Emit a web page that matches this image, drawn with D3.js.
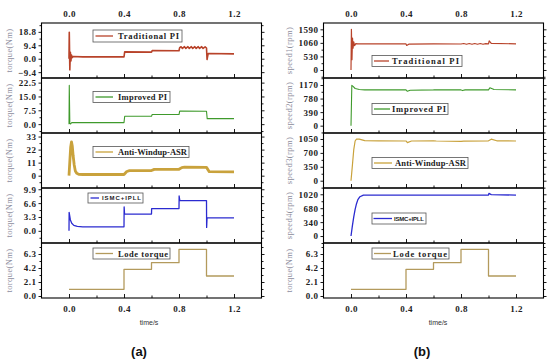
<!DOCTYPE html>
<html>
<head>
<meta charset="utf-8">
<script src="https://cdn.jsdelivr.net/npm/d3@7/dist/d3.min.js"></script>
<style>
  body { margin: 0; background: #fff; }
  .tick text { font-family: "Liberation Serif", serif; font-weight: bold; font-size: 9px; fill: #222; letter-spacing: 0.5px; }
  .tick line { stroke: #000; stroke-width: 0.9; }
</style>
</head>
<body>
<script>
// ---- data ----
const timeTicks = [0, 0.4, 0.8, 1.2];
const timeMinor = [0.2, 0.6, 1.0];

// load torque (Nm) steps, shared by both bottom panels
const lodeTorque = [[0,1],[0.4,1],[0.4,4],[0.6,4],[0.6,5],[0.8,5],[0.8,7],[1.0,7],[1.0,3],[1.2,3]];

// (a) torque responses
const tradTorque = [[0,0],[0.002,18.5],[0.006,-7.8],[0.010,4.5],[0.014,-1.5],[0.018,2.6],[0.024,0.8],[0.03,1.6],
  [0.1,1.3],[0.4,1.3],[0.405,4.8],[0.6,4.6],[0.605,5.7],[0.8,5.6],[0.805,7.8],
  [0.815,8.4],[0.825,7.2],[0.84,8.4],[0.85,7.2],[0.865,8.4],[0.875,7.2],[0.89,8.4],[0.9,7.2],
  [0.915,8.4],[0.925,7.2],[0.94,8.4],[0.95,7.2],[0.965,8.4],[0.975,7.2],[0.99,8.3],[1.0,7.5],
  [1.004,-0.6],[1.012,3.6],[1.2,3.4]];
const impTorque = [[0,0],[0.002,21],[0.006,0.4],[0.012,0.1],[0.02,0.9],[0.05,0.8],[0.4,0.8],[0.405,4.3],
  [0.6,4.3],[0.605,5.2],[0.8,5.2],[0.805,7.1],[1.0,7.0],[1.005,3.0],[1.2,3.0]];
const awTorque = [[0,0],[0.006,12],[0.012,24],[0.018,28.5],[0.024,25],[0.03,17],[0.038,9],[0.046,4],
  [0.056,2],[0.07,1.2],[0.1,1],[0.4,1.0],[0.42,3.5],[0.44,4.2],[0.6,4.3],[0.62,5.3],[0.8,5.4],
  [0.82,6.8],[0.84,7.2],[1.0,7.0],[1.02,3.4],[1.2,3.2]];
const ismcTorque = [[0,0],[0.001,4.4],[0.01,2.6],[0.02,1.8],[0.035,1.3],[0.06,1.05],[0.1,0.95],[0.4,0.95],
  [0.401,5.7],[0.404,4.0],[0.6,4.0],[0.601,5.3],[0.8,5.3],[0.801,8.3],[0.806,7.2],[1.0,7.2],
  [1.001,0.8],[1.004,3.1],[1.2,3.1]];

// (b) speed responses (rpm)
const tradSpeed = [[0,0],[0.003,1590],[0.007,400],[0.011,1250],[0.015,850],[0.02,1100],[0.026,950],[0.035,1030],
  [0.05,1020],[0.4,1020],[0.405,960],[0.42,1010],[0.6,1020],[0.8,1015],[0.82,1035],[0.84,1005],[0.86,1035],
  [0.88,1005],[0.9,1035],[0.92,1005],[0.94,1035],[0.96,1005],[0.98,1030],[1.0,1020],[1.005,1140],
  [1.02,1040],[1.2,1020]];
const impSpeed = [[0,0],[0.006,1160],[0.015,1130],[0.03,1070],[0.06,1040],[0.1,1030],[0.4,1030],[0.41,990],
  [0.43,1020],[0.6,1030],[0.62,1035],[0.8,1030],[0.81,1010],[0.83,1030],[1.0,1030],[1.01,1090],
  [1.04,1040],[1.2,1030]];
const awSpeed = [[0,0],[0.01,380],[0.02,780],[0.03,1000],[0.04,1050],[0.06,1045],[0.1,1010],[0.2,1005],
  [0.4,1000],[0.41,960],[0.44,1000],[0.6,1005],[0.62,1000],[0.8,990],[0.82,995],[1.0,1005],
  [1.02,1045],[1.06,1005],[1.2,1000]];
const ismcSpeed = [[0,0],[0.01,250],[0.02,470],[0.03,650],[0.04,790],[0.05,890],[0.065,960],[0.09,1000],
  [0.4,1000],[0.6,1000],[0.8,1000],[1.0,1000],[1.003,1040],[1.02,1010],[1.2,1000]];

// y tick values and domains per row
const torqueTicksA = [[-9.4,0,9.4,18.8],[0,7.5,15,22.5],[0,11,22,33],[0,3.3,6.6,9.9],[0,2.1,4.2,6.3]];
const speedTicksB = [[0,530,1060,1590],[0,390,780,1170],[0,350,700,1050],[0,340,680,1020],[0,2.1,4.2,6.3]];
const domainsA = [[-13.5,25],[-4.8,25],[-10.4,36],[-2.9,10.2],[-0.3,7.95]];
const domainsB = [[-314,1837],[-211,1372],[-184,1201],[-170,1173],[-0.3,7.95]];

const seriesNames = ["Traditional PI","Improved PI","Anti-Windup-ASR","ISMC+IPLL","Lode torque"];
const colors = ["#b8432a","#3f9a2c","#c9a23c","#2b2bd0","#b39a5c"];

// ---- layout ----
const svg = d3.select("body").append("svg")
    .attr("width", 550).attr("height", 364);

const rowTops = [23, 78, 133, 188, 243], rowH = 55;

const columns = [
  { x0: 41.5, x1: 261.5, titleX: 10, data: [tradTorque, impTorque, awTorque, ismcTorque, lodeTorque],
    ticks: torqueTicksA, domains: domainsA, widths: [1.6, 1.1, 2.8, 1.3, 1.3],
    titles: ["torque(Nm)","torque(Nm)","torque(Nm)","torque(Nm)","torque(Nm)"],
    fmt: [".1f",".1f","d",".1f",".1f"],
    legends: [
      {x:93, y:30, w:89, h:12, l0:95.5, l1:113, tx:118, tw:61},
      {x:93, y:91.5, w:77, h:11, l0:95.5, l1:113, tx:118, tw:49},
      {x:93, y:146.5, w:96, h:11, l0:95.5, l1:113, tx:118, tw:69},
      {x:88, y:193, w:55, h:10, l0:90.5, l1:99, tx:102, tw:39, small:true},
      {x:93, y:248, w:77, h:11, l0:95.5, l1:113, tx:118, tw:50}],
    label: "(a)", labelX: 139, timeX: 149 },
  { x0: 323.5, x1: 543.5, titleX: 290, data: [tradSpeed, impSpeed, awSpeed, ismcSpeed, lodeTorque],
    ticks: speedTicksB, domains: domainsB, widths: [1.2, 1.1, 1.2, 1.3, 1.3],
    titles: ["speed1(rpm)","speed2(rpm)","speed3(rpm)","speed4(rpm)","torque(Nm)"],
    fmt: ["d","d","d","d",".1f"],
    legends: [
      {x:372, y:55.5, w:90, h:11, l0:374, l1:389, tx:392, tw:67},
      {x:372, y:103.5, w:76, h:11, l0:374, l1:390, tx:392, tw:54},
      {x:372, y:157.5, w:96, h:11, l0:374, l1:392, tx:395, tw:71},
      {x:372, y:213, w:54, h:11, l0:373.5, l1:392, tx:394, tw:30, small:true},
      {x:372, y:248, w:77, h:11, l0:374, l1:391, tx:393, tw:54}],
    label: "(b)", labelX: 422, timeX: 438 }
];

columns.forEach((col, ci) => {
  const x = d3.scaleLinear().domain([-0.2, 1.4]).range([col.x0, col.x1]);

  rowTops.forEach((top, ri) => {
    const bottom = top + rowH;
    const y = d3.scaleLinear().domain(col.domains[ri]).range([bottom, top]);
    const g = svg.append("g");
    const ticks = col.ticks[ri];
    const step = ticks[1] - ticks[0];
    const minor = [];
    for (let v = ticks[0] - step / 2; v <= col.domains[ri][1]; v += step)
      if (v >= col.domains[ri][0]) minor.push(v);

    // clip
    const clipId = `clip${ci}${ri}`;
    svg.append("clipPath").attr("id", clipId)
      .append("rect").attr("x", col.x0).attr("y", top).attr("width", col.x1 - col.x0).attr("height", rowH);

    // line
    const line = d3.line().x(d => x(d[0])).y(d => y(d[1]));
    g.append("path")
      .datum(col.data[ri])
      .attr("clip-path", `url(#${clipId})`)
      .attr("fill", "none")
      .attr("stroke", colors[ri])
      .attr("stroke-width", col.widths[ri])
      .attr("stroke-linejoin", "round")
      .attr("d", line);

    // left axis
    g.append("g").attr("transform", `translate(${col.x0},0)`)
      .call(d3.axisLeft(y).tickValues(ticks).tickSize(3).tickPadding(2)
        .tickFormat(d3.format(col.fmt[ri])))
      .call(a => a.select(".domain").remove());
    g.append("g").attr("transform", `translate(${col.x0},0)`)
      .call(d3.axisLeft(y).tickValues(minor).tickSize(2).tickFormat(""))
      .call(a => a.select(".domain").remove());
    // right axis
    g.append("g").attr("transform", `translate(${col.x1},0)`)
      .call(d3.axisRight(y).tickValues(ticks).tickSize(3).tickFormat(""))
      .call(a => a.select(".domain").remove());
    g.append("g").attr("transform", `translate(${col.x1},0)`)
      .call(d3.axisRight(y).tickValues(minor).tickSize(2).tickFormat(""))
      .call(a => a.select(".domain").remove());

    // time ticks along the bottom edge, pointing inward
    const xb = g.append("g").attr("transform", `translate(0,${bottom})`);
    xb.call(d3.axisTop(x).tickValues(timeTicks).tickSize(4).tickFormat(""))
      .call(a => a.select(".domain").remove());
    xb.append("g").call(d3.axisTop(x).tickValues(timeMinor).tickSize(2.5).tickFormat(""))
      .call(a => a.select(".domain").remove());

    if (ri === 0) {
      g.append("g").attr("transform", `translate(0,${top})`)
        .call(d3.axisTop(x).tickValues(timeTicks).tickSize(0).tickPadding(6)
          .tickFormat(d3.format(".1f")))
        .call(a => a.select(".domain").remove());
    }
    if (ri === rowTops.length - 1) {
      g.append("g").attr("transform", `translate(0,${bottom})`)
        .call(d3.axisBottom(x).tickValues(timeTicks).tickSize(0).tickPadding(8)
          .tickFormat(d3.format(".1f")))
        .call(a => a.select(".domain").remove());
    }

    // frame
    g.append("rect")
      .attr("x", col.x0).attr("y", top)
      .attr("width", col.x1 - col.x0).attr("height", rowH)
      .attr("fill", "none").attr("stroke", "#000").attr("stroke-width", 1.1);

    // y title
    g.append("text")
      .attr("transform", `translate(${col.titleX},${top + rowH / 2}) rotate(-90)`)
      .attr("text-anchor", "middle").attr("dominant-baseline", "middle")
      .attr("font-family", "Liberation Serif, serif")
      .attr("font-size", 8.5).attr("letter-spacing", 0.4)
      .attr("fill", "#8e8e9e")
      .text(col.titles[ri]);

    // legend
    const lg = col.legends[ri];
    g.append("rect").attr("x", lg.x).attr("y", lg.y).attr("width", lg.w).attr("height", lg.h)
      .attr("fill", "#fff").attr("stroke", "#555").attr("stroke-width", 0.8);
    g.append("line").attr("x1", lg.l0).attr("x2", lg.l1)
      .attr("y1", lg.y + lg.h / 2).attr("y2", lg.y + lg.h / 2)
      .attr("stroke", colors[ri]).attr("stroke-width", 1.3);
    g.append("text").attr("x", lg.tx).attr("y", lg.y + lg.h / 2)
      .attr("dominant-baseline", "central")
      .attr("font-family", lg.small ? "Liberation Sans, Arial, sans-serif" : "Liberation Serif, serif")
      .attr("font-weight", "bold")
      .attr("font-size", lg.small ? 6 : 8.5)
      .attr("fill", "#222")
      .attr("textLength", lg.tw).attr("lengthAdjust", "spacing")
      .text(seriesNames[ri]);
  });

  svg.append("text").attr("x", col.timeX).attr("y", 323)
    .attr("text-anchor", "middle").attr("dominant-baseline", "middle")
    .attr("font-family", "Liberation Sans, Arial, sans-serif").attr("font-size", 7)
    .attr("fill", "#333").text("time/s");

  svg.append("text").attr("x", col.labelX).attr("y", 353)
    .attr("text-anchor", "middle").attr("dominant-baseline", "middle")
    .attr("font-family", "Liberation Sans, Arial, sans-serif").attr("font-weight", "bold")
    .attr("font-size", 13).attr("fill", "#111").text(col.label);
});
</script>
</body>
</html>
